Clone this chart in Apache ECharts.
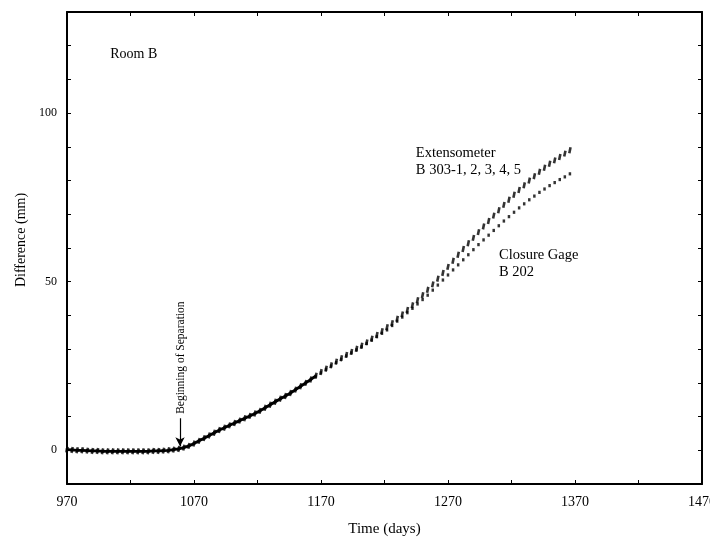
<!DOCTYPE html>
<html>
<head>
<meta charset="utf-8">
<script src="https://cdn.jsdelivr.net/npm/echarts@6/dist/echarts.min.js"></script>
<style>
html,body{margin:0;padding:0;background:#fff;overflow:hidden;width:710px;height:545px;}
#c{position:absolute;left:0;top:0;width:710px;height:545px;}
</style>
</head>
<body>
<div id="c"></div>
<script>
// Time (days), sampled every 4 days
var days = [];
for (var d = 970; d <= 1366; d += 4) days.push(d);

// Extensometer B 303-1,2,3,4,5 (mm)
var extensometer = [
 0.2, 0.1, 0.0, 0.0, -0.1, -0.2, -0.2, -0.3, -0.3, -0.3,
 -0.3, -0.3, -0.3, -0.3, -0.3, -0.3, -0.3, -0.2, -0.2, -0.1,
 0.0, 0.2, 0.4, 0.8, 1.3, 2.0, 2.8, 3.6, 4.4, 5.2,
 6.0, 6.7, 7.4, 8.1, 8.8, 9.5, 10.2, 10.9, 11.7, 12.6,
 13.5, 14.4, 15.3, 16.1, 17.0, 18.0, 19.0, 20.0, 21.0, 22.1,
 23.2, 24.2, 25.2, 26.3, 27.3, 28.3, 29.2, 30.1, 31.0, 32.0,
 33.1, 34.2, 35.3, 36.5, 37.7, 39.0, 40.3, 41.6, 43.0, 44.5,
 46.0, 47.6, 49.2, 50.9, 52.6, 54.4, 56.2, 58.0, 59.7, 61.4,
 63.0, 64.7, 66.4, 68.0, 69.6, 71.2, 72.8, 74.3, 75.8, 77.2,
 78.6, 80.0, 81.3, 82.6, 83.8, 85.0, 86.0, 87.0, 88.0, 89.0
];

// Closure Gage B 202 (mm)
var closureGage = [
 0.2, 0.1, 0.0, 0.0, -0.1, -0.2, -0.2, -0.3, -0.3, -0.3,
 -0.3, -0.3, -0.3, -0.3, -0.3, -0.3, -0.3, -0.2, -0.2, -0.1,
 0.0, 0.2, 0.4, 0.8, 1.3, 2.0, 2.8, 3.6, 4.4, 5.2,
 6.0, 6.7, 7.4, 8.1, 8.8, 9.5, 10.2, 10.9, 11.7, 12.6,
 13.5, 14.4, 15.3, 16.1, 17.0, 18.0, 19.0, 20.0, 21.0, 22.0,
 23.0, 24.0, 25.0, 26.0, 27.0, 28.0, 28.9, 29.8, 30.7, 31.7,
 32.7, 33.7, 34.7, 35.7, 37.0, 38.3, 39.5, 40.8, 42.1, 43.4,
 44.7, 46.0, 47.5, 49.0, 50.5, 52.0, 53.5, 55.0, 56.5, 58.0,
 59.5, 61.0, 62.4, 63.8, 65.2, 66.6, 68.0, 69.3, 70.6, 71.9,
 73.1, 74.3, 75.4, 76.5, 77.5, 78.5, 79.4, 80.3, 81.1, 82.0
];

var xTickLabels = [970, 1070, 1170, 1270, 1370, 1470];
var yTickLabels = [0, 50, 100];
var separationDay = 1059;

var FONT = 'Liberation Serif';
var INK = '#000';

function pairs(xs, ys) { return xs.map(function (x, i) { return [x, ys[i]]; }); }
var extData = pairs(days, extensometer);
var cgData = pairs(days, closureGage);
var earlyData = extData.filter(function (p) { return p[0] <= 1166; });

var chart = echarts.init(document.getElementById('c'), null, {renderer: 'canvas', width: 710, height: 545});

var axisLine = {show: true, onZero: false, lineStyle: {color: INK, width: 2}};
var xCommon = {
  type: 'value', min: 970, max: 1470, interval: 50,
  axisLine: axisLine,
  axisTick: {show: true, inside: true, length: 4, lineStyle: {color: INK, width: 1}},
  splitLine: {show: false}
};
var yCommon = {
  type: 'value', min: -10, max: 130, interval: 10,
  axisLine: axisLine,
  axisTick: {show: true, inside: true, length: 4, lineStyle: {color: INK, width: 1}},
  splitLine: {show: false}
};

var option = {
  backgroundColor: '#fff',
  animation: false,
  grid: {left: 67, right: 8, top: 12, bottom: 61, containLabel: false, outerBoundsMode: 'none'},
  xAxis: [
    Object.assign({}, xCommon, {
      position: 'bottom',
      name: 'Time (days)', nameLocation: 'middle', nameGap: 38,
      nameTextStyle: {fontFamily: FONT, fontSize: 15, color: INK},
      axisLabel: {
        show: true, margin: 11, fontFamily: FONT, fontSize: 14, color: INK,
        formatter: function (v) { return xTickLabels.indexOf(v) >= 0 ? String(v) : ''; }
      }
    }),
    Object.assign({}, xCommon, {position: 'top', axisLabel: {show: false}})
  ],
  yAxis: [
    Object.assign({}, yCommon, {
      position: 'left',
      name: 'Difference (mm)', nameLocation: 'middle', nameGap: 37,
      nameTextStyle: {fontFamily: FONT, fontSize: 14, color: INK, padding: [0, 0, 0, 16]},
      axisLabel: {
        show: true, margin: 10, fontFamily: FONT, fontSize: 12, color: INK,
        formatter: function (v) { return yTickLabels.indexOf(v) >= 0 ? String(v) : ''; }
      }
    }),
    Object.assign({}, yCommon, {position: 'right', axisLabel: {show: false}})
  ],
  series: [
    {
      name: 'early', type: 'line', data: earlyData, showSymbol: false, symbol: 'none',
      lineStyle: {color: INK, width: 2.8}, silent: true, z: 2,
      markLine: {
        silent: true, symbol: ['none', 'arrow'], symbolSize: [7, 9],
        lineStyle: {color: INK, width: 1.2, type: 'solid'},
        label: {show: false},
        data: [[{coord: [separationDay, 9.5]}, {coord: [separationDay, 1.2]}]]
      }
    },
    {
      name: 'Extensometer', type: 'scatter', data: extData,
      symbol: 'rect', symbolSize: [2.6, 6], symbolRotate: -12,
      itemStyle: {color: INK}, z: 3
    },
    {
      name: 'Closure Gage', type: 'scatter', data: cgData,
      symbol: 'rect', symbolSize: [2.5, 3.2],
      itemStyle: {color: INK}, z: 3
    }
  ]
};
chart.setOption(option);

function px(t, v) { return chart.convertToPixel({xAxisIndex: 0, yAxisIndex: 0}, [t, v]); }
var pRoom = px(1004, 117.4);
var pExt = px(1244.7, 90.6);
var pCg = px(1310.2, 60.3);
var pSep = px(separationDay, 10.8);

chart.setOption({
  graphic: [
    {type: 'text', x: pRoom[0], y: pRoom[1],
     style: {text: 'Room B', fontFamily: FONT, fontSize: 14, fill: INK, textAlign: 'left', textVerticalAlign: 'middle'}},
    {type: 'text', x: pExt[0], y: pExt[1],
     style: {text: 'Extensometer\nB 303-1, 2, 3, 4, 5', fontFamily: FONT, fontSize: 14.5, lineHeight: 17, fill: INK, textAlign: 'left', textVerticalAlign: 'top'}},
    {type: 'text', x: pCg[0], y: pCg[1],
     style: {text: 'Closure Gage\nB 202', fontFamily: FONT, fontSize: 14.5, lineHeight: 17, fill: INK, textAlign: 'left', textVerticalAlign: 'top'}},
    {type: 'text', x: pSep[0] + 1, y: pSep[1], rotation: Math.PI / 2,
     style: {text: 'Beginning of Separation', fontFamily: FONT, fontSize: 11.5, fill: INK, textAlign: 'left', textVerticalAlign: 'middle'}}
  ]
});
</script>
</body>
</html>
